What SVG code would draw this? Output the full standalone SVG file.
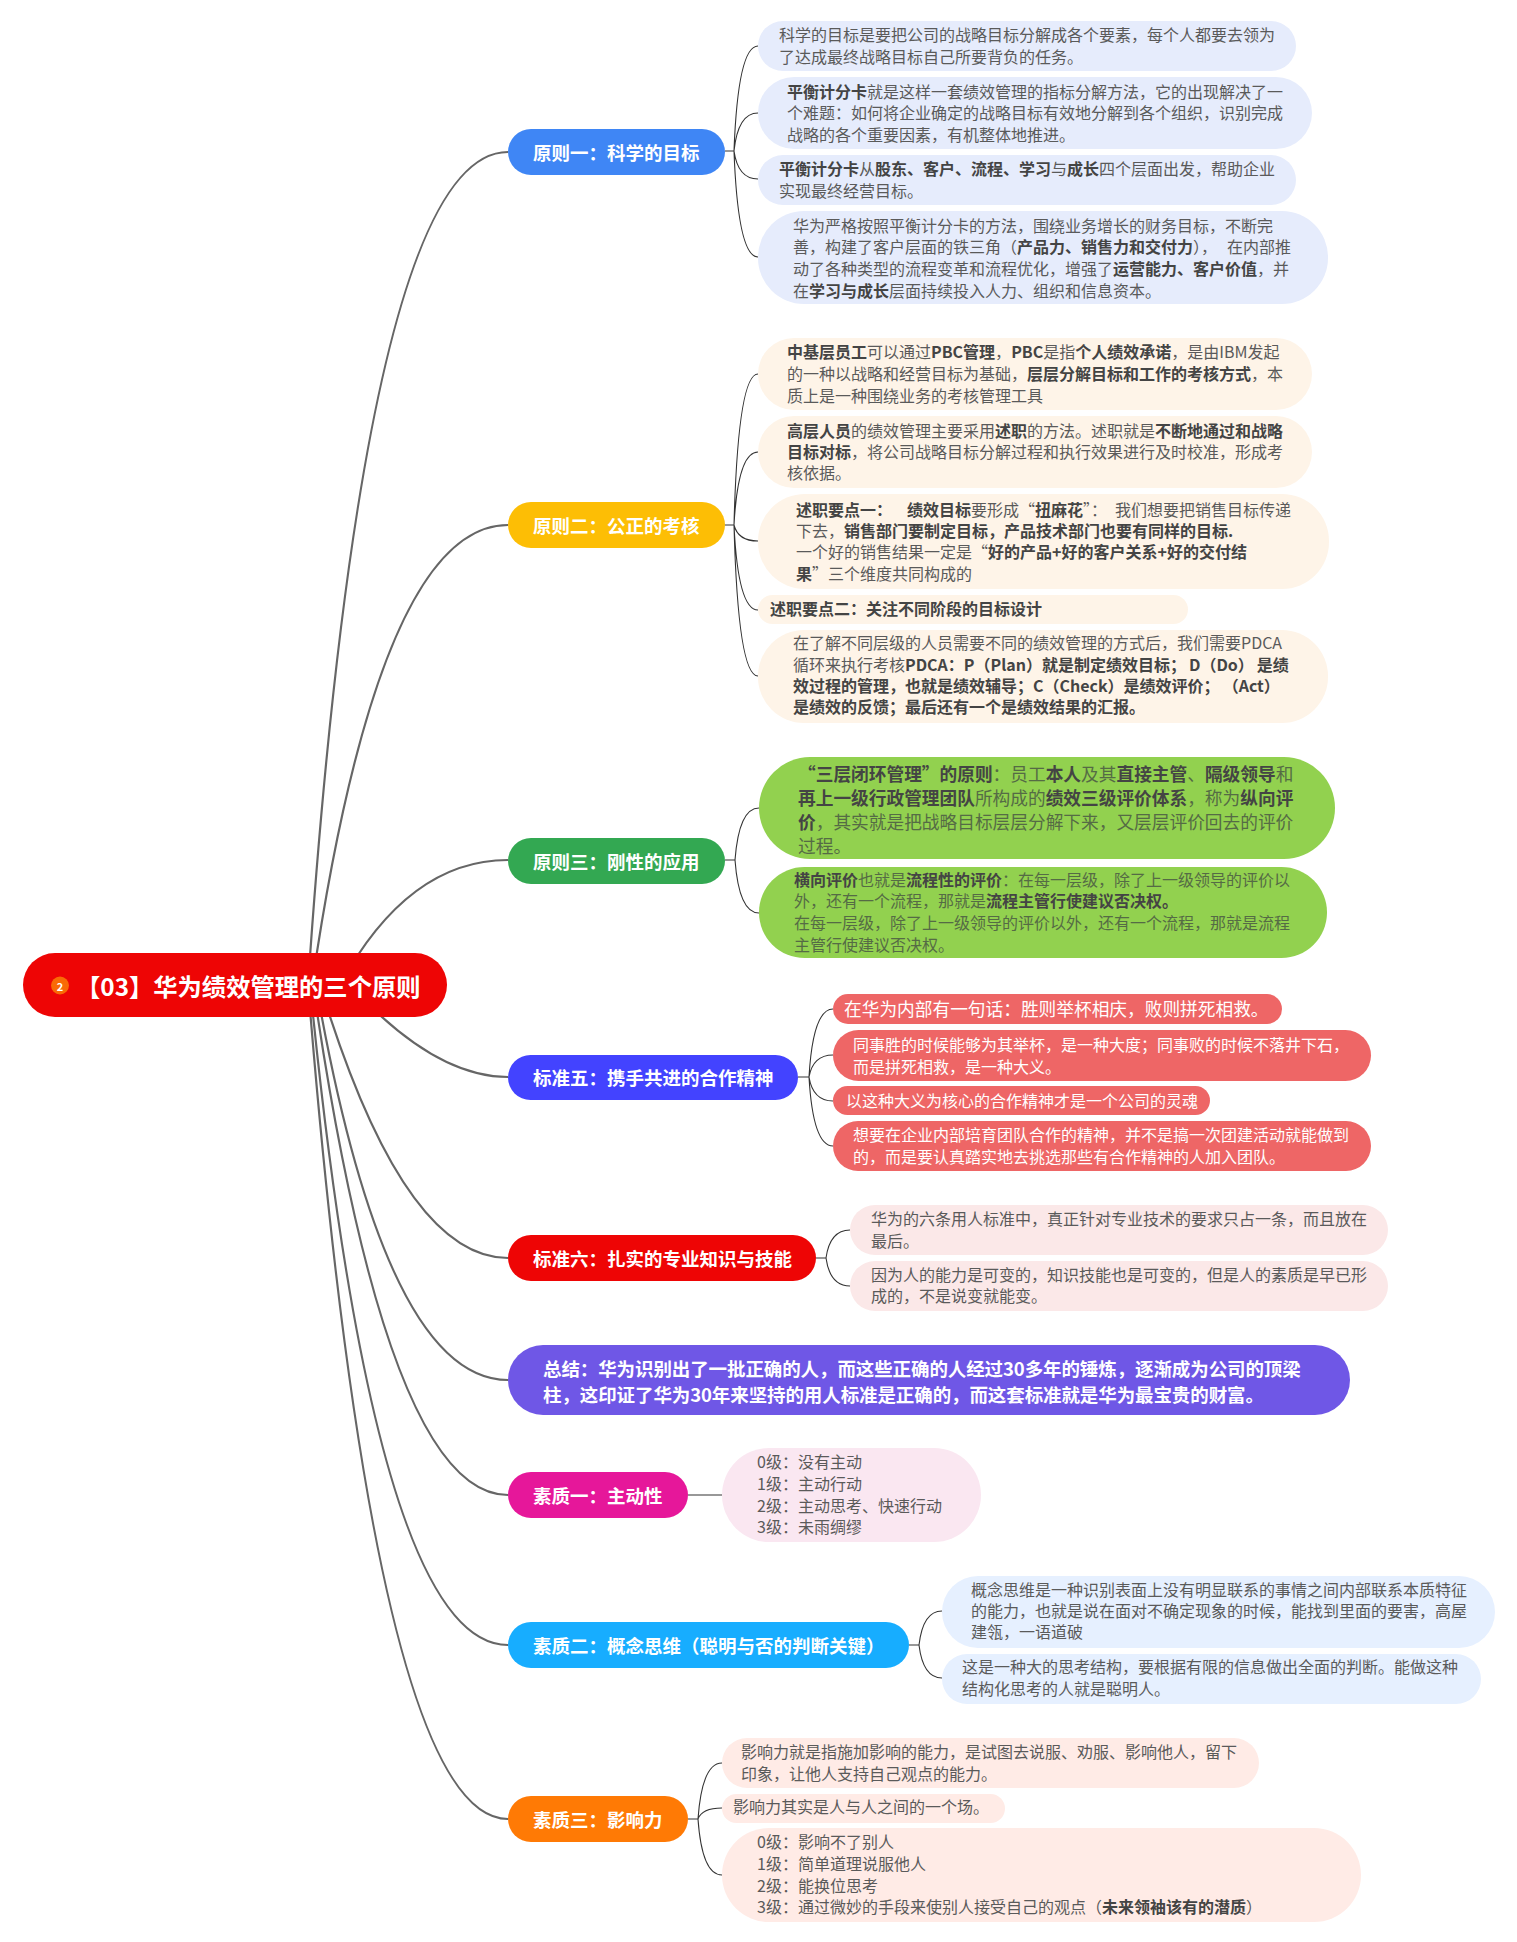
<svg xmlns="http://www.w3.org/2000/svg" width="1517" height="1942" viewBox="0 0 1517 1942">
<style>
text{font-family:"Noto Sans CJK SC","Noto Sans",sans-serif;font-size:16px;fill:#5a5a5a;white-space:pre}
.b{font-weight:700;fill:#444}
.br{font-size:18.5px;font-weight:700;fill:#fff}
.w{fill:#fff}
.g{fill:#556b45}
.g .b{fill:#444}
.l17{font-size:17.7px}
.main{fill:none;stroke:#666;stroke-width:2.2}
.sub{fill:none;stroke:#333;stroke-width:1.1}
</style>
<rect width="1517" height="1942" fill="#fff"/>
<g id="connectors">
<path class="main" d="M308 985Q365 152 508 152"/>
<path class="main" d="M312 985Q379 525 508 525"/>
<path class="main" d="M340 985Q408 860 508 860"/>
<path class="main" d="M350 985Q434 1077 508 1077"/>
<path class="main" d="M320 985Q403 1258 508 1258"/>
<path class="main" d="M316 985Q385 1380 508 1380"/>
<path class="main" d="M313 985Q387 1495 508 1495"/>
<path class="main" d="M310 985Q375 1645 508 1645"/>
<path class="main" d="M308 985Q375 1819 508 1819"/>
<path class="sub" d="M725 151H734M734 151Q738 46 758 46M734 151Q738 113 758 113M734 151Q738 179 758 179M734 151Q738 257 758 257"/>
<path class="sub" d="M725 525H734M734 525Q738 374 758 374M734 525Q738 452 758 452M734 525Q738 541 758 541M734 525Q738 610 758 610M734 525Q738 676 758 676"/>
<path class="sub" d="M725 860H735M735 860Q739 808 759 808M735 860Q739 913 759 913"/>
<path class="sub" d="M798 1077H809M809 1077Q813 1009 833 1009M809 1077Q813 1055 833 1055M809 1077Q813 1101 833 1101M809 1077Q813 1146 833 1146"/>
<path class="sub" d="M816 1258H826M826 1258Q830 1230 850 1230M826 1258Q830 1286 850 1286"/>
<path class="sub" d="M688 1495H722"/>
<path class="sub" d="M909 1645H919M919 1645Q923 1611 942 1611M919 1645Q923 1678 942 1678"/>
<path class="sub" d="M688 1819H698M698 1819Q702 1763 722 1763M698 1819Q702 1808 722 1808M698 1819Q702 1875 722 1875"/>
</g>
<g id="root">
<rect x="23" y="953" width="424" height="64" rx="32" fill="#ee0505"/>
<circle cx="60" cy="985.500" r="9" fill="#f96a05"/>
<text x="60" y="990.500" text-anchor="middle" style="font-size:11px;font-weight:700;fill:#fff">2</text>
<text x="76" y="996" style="font-size:24.3px;font-weight:700;fill:#fff">【03】华为绩效管理的三个原则</text>
</g>
<g id="b1">
<rect x="508" y="129" width="217" height="46" rx="23" fill="#3f86f5"/>
<text class="br" x="533" y="159.500">原则一：科学的目标</text>
</g>
<g id="c1">
<rect x="758" y="21" width="538" height="50" rx="25" fill="#e6ecfc"/>
<text x="779" y="40.500">科学的目标是要把公司的战略目标分解成各个要素，每个人都要去领为</text>
<text x="779" y="62.500">了达成最终战略目标自己所要背负的任务。</text>
</g>
<g id="c2">
<rect x="758" y="77" width="554" height="72" rx="36" fill="#e6ecfc"/>
<text x="787" y="97.500"><tspan class="b">平衡计分卡</tspan>就是这样一套绩效管理的指标分解方法，它的出现解决了一</text>
<text x="787" y="119">个难题：如何将企业确定的战略目标有效地分解到各个组织，识别完成</text>
<text x="787" y="140.500">战略的各个重要因素，有机整体地推进。</text>
</g>
<g id="c3">
<rect x="758" y="155" width="538" height="50" rx="25" fill="#e6ecfc"/>
<text x="779" y="174.500"><tspan class="b">平衡计分卡</tspan>从<tspan class="b">股东、客户、流程、学习</tspan>与<tspan class="b">成长</tspan>四个层面出发，帮助企业</text>
<text x="779" y="196.500">实现最终经营目标。</text>
</g>
<g id="c4">
<rect x="758" y="211" width="570" height="93" rx="46" fill="#e6ecfc"/>
<text x="793" y="231.500">华为严格按照平衡计分卡的方法，围绕业务增长的财务目标，不断完</text>
<text x="793" y="252.500">善，构建了客户层面的铁三角（<tspan class="b">产品力、销售力和交付力</tspan>），<tspan x="1227">在内部推</tspan></text>
<text x="793" y="274.500">动了各种类型的流程变革和流程优化，增强了<tspan class="b">运营能力、客户价值</tspan>，并</text>
<text x="793" y="296.500">在<tspan class="b">学习与成长</tspan>层面持续投入人力、组织和信息资本。</text>
</g>
<g id="b2">
<rect x="508" y="502" width="217" height="46" rx="23" fill="#fdbe05"/>
<text class="br" x="533" y="532.500">原则二：公正的考核</text>
</g>
<g id="d1">
<rect x="758" y="338" width="554" height="72" rx="36" fill="#fef4e8"/>
<text x="787" y="357.500"><tspan class="b">中基层员工</tspan>可以通过<tspan class="b">PBC管理</tspan>，<tspan class="b">PBC</tspan>是指<tspan class="b">个人绩效承诺</tspan>，是由IBM发起</text>
<text x="787" y="379.500">的一种以战略和经营目标为基础，<tspan class="b">层层分解目标和工作的考核方式</tspan>，本</text>
<text x="787" y="401.500">质上是一种围绕业务的考核管理工具</text>
</g>
<g id="d2">
<rect x="758" y="416" width="554" height="72" rx="36" fill="#fef4e8"/>
<text x="787" y="436.500"><tspan class="b">高层人员</tspan>的绩效管理主要采用<tspan class="b">述职</tspan>的方法。述职就是<tspan class="b">不断地通过和战略</tspan></text>
<text x="787" y="457.500"><tspan class="b">目标对标</tspan>，将公司战略目标分解过程和执行效果进行及时校准，形成考</text>
<text x="787" y="478.500">核依据。</text>
</g>
<g id="d3">
<rect x="758" y="494" width="571" height="95" rx="47" fill="#fef4e8"/>
<text x="796" y="516"><tspan class="b">述职要点一：</tspan><tspan x="907" class="b">绩效目标</tspan>要形成“<tspan class="b">扭麻花</tspan>”：<tspan x="1115">我们想要把销售目标传递</tspan></text>
<text x="796" y="537">下去，<tspan class="b">销售部门要制定目标，产品技术部门也要有同样的目标.</tspan></text>
<text x="796" y="558">一个好的销售结果一定是“<tspan class="b">好的产品+好的客户关系+好的交付结</tspan></text>
<text x="796" y="580"><tspan class="b">果</tspan>”三个维度共同构成的</text>
</g>
<g id="d4">
<rect x="758" y="595" width="430" height="29" rx="14.500" fill="#fef4e8"/>
<text class="b" x="770" y="614.500">述职要点二：关注不同阶段的目标设计</text>
</g>
<g id="d5">
<rect x="758" y="630" width="570" height="93" rx="46" fill="#fef4e8"/>
<text x="793" y="648.500">在了解不同层级的人员需要不同的绩效管理的方式后，我们需要PDCA</text>
<text x="793" y="671"><tspan dx="0">循环来执行考核</tspan><tspan class="b">PDCA：P（Plan）就是制定绩效目标；</tspan><tspan class="b" dx="3">D（Do）</tspan><tspan class="b" dx="3">是绩</tspan></text>
<text class="b" x="793" y="692">效过程的管理，也就是绩效辅导；C（Check）是绩效评价；<tspan dx="11">（Act）</tspan></text>
<text class="b" x="793" y="713">是绩效的反馈；最后还有一个是绩效结果的汇报。</text>
</g>
<g id="b3">
<rect x="508" y="838" width="217" height="46" rx="23" fill="#33a852"/>
<text class="br" x="533" y="868.500">原则三：刚性的应用</text>
</g>
<g id="e1">
<rect x="759" y="757" width="576" height="102" rx="51" fill="#92d14f"/>
<text class="g l17" x="798" y="780.500"><tspan class="b">“三层闭环管理”的原则</tspan>：员工<tspan class="b">本人</tspan>及其<tspan class="b">直接主管</tspan>、<tspan class="b">隔级领导</tspan>和</text>
<text class="g l17" x="798" y="804.500"><tspan class="b">再上一级行政管理团队</tspan>所构成的<tspan class="b">绩效三级评价体系</tspan>，称为<tspan class="b">纵向评</tspan></text>
<text class="g l17" x="798" y="828.500"><tspan class="b">价</tspan>，其实就是把战略目标层层分解下来，又层层评价回去的评价</text>
<text class="g l17" x="798" y="852.500">过程。</text>
</g>
<g id="e2">
<rect x="759" y="867" width="568" height="91" rx="45.500" fill="#92d14f"/>
<text class="g" x="794" y="886"><tspan class="b">横向评价</tspan>也就是<tspan class="b">流程性的评价</tspan>：在每一层级，除了上一级领导的评价以</text>
<text class="g" x="794" y="907">外，还有一个流程，那就是<tspan class="b">流程主管行使建议否决权。</tspan></text>
<text class="g" x="794" y="929">在每一层级，除了上一级领导的评价以外，还有一个流程，那就是流程</text>
<text class="g" x="794" y="951">主管行使建议否决权。</text>
</g>
<g id="b5">
<rect x="508" y="1055" width="290" height="45" rx="22.500" fill="#4343ff"/>
<text class="br" x="533" y="1084.500">标准五：携手共进的合作精神</text>
</g>
<g id="f1">
<rect x="833" y="994" width="449" height="30" rx="15" fill="#ee6666"/>
<text class="w l17" x="844" y="1016">在华为内部有一句话：胜则举杯相庆，败则拼死相救。</text>
</g>
<g id="f2">
<rect x="833" y="1030" width="538" height="51" rx="25.500" fill="#ee6666"/>
<text class="w" x="853" y="1050.500">同事胜的时候能够为其举杯，是一种大度；同事败的时候不落井下石，</text>
<text class="w" x="853" y="1072.500">而是拼死相救，是一种大义。</text>
</g>
<g id="f3">
<rect x="833" y="1086" width="377" height="29" rx="14.500" fill="#ee6666"/>
<text class="w" x="846" y="1106.500">以这种大义为核心的合作精神才是一个公司的灵魂</text>
</g>
<g id="f4">
<rect x="833" y="1121" width="538" height="50" rx="25" fill="#ee6666"/>
<text class="w" x="853" y="1140.500">想要在企业内部培育团队合作的精神，并不是搞一次团建活动就能做到</text>
<text class="w" x="853" y="1162.500">的，而是要认真踏实地去挑选那些有合作精神的人加入团队。</text>
</g>
<g id="b6">
<rect x="508" y="1235" width="308" height="46" rx="23" fill="#ee0505"/>
<text class="br" x="533" y="1265.500">标准六：扎实的专业知识与技能</text>
</g>
<g id="g1">
<rect x="850" y="1205" width="538" height="50" rx="25" fill="#fbe8e8"/>
<text x="871" y="1224.500">华为的六条用人标准中，真正针对专业技术的要求只占一条，而且放在</text>
<text x="871" y="1246.500">最后。</text>
</g>
<g id="g2">
<rect x="850" y="1261" width="538" height="50" rx="25" fill="#fbe8e8"/>
<text x="871" y="1280.500">因为人的能力是可变的，知识技能也是可变的，但是人的素质是早已形</text>
<text x="871" y="1302">成的，不是说变就能变。</text>
</g>
<g id="summary">
<rect x="508" y="1345" width="842" height="70" rx="35" fill="#6f57e6"/>
<text class="br" x="543" y="1375.500" style="letter-spacing:-.1px">总结：华为识别出了一批正确的人，而这些正确的人经过30多年的锤炼，逐渐成为公司的顶梁</text>
<text class="br" x="543" y="1401.500" style="letter-spacing:-.1px">柱，这印证了华为30年来坚持的用人标准是正确的，而这套标准就是华为最宝贵的财富。</text>
</g>
<g id="s1">
<rect x="508" y="1472" width="180" height="46" rx="23" fill="#e6179a"/>
<text class="br" x="533" y="1502.500">素质一：主动性</text>
</g>
<g id="h">
<rect x="722" y="1448" width="259" height="94" rx="47" fill="#fae7f1"/>
<text x="757" y="1467.500">0级：没有主动</text>
<text x="757" y="1489.500">1级：主动行动</text>
<text x="757" y="1511.500">2级：主动思考、快速行动</text>
<text x="757" y="1532.500">3级：未雨绸缪</text>
</g>
<g id="s2">
<rect x="508" y="1622" width="401" height="46" rx="23" fill="#17adff"/>
<text class="br" x="533" y="1652.500">素质二：概念思维（聪明与否的判断关键）</text>
</g>
<g id="i1">
<rect x="942" y="1576" width="553" height="72" rx="36" fill="#e6f0ff"/>
<text x="971" y="1596">概念思维是一种识别表面上没有明显联系的事情之间内部联系本质特征</text>
<text x="971" y="1617">的能力，也就是说在面对不确定现象的时候，能找到里面的要害，高屋</text>
<text x="971" y="1638">建瓴，一语道破</text>
</g>
<g id="i2">
<rect x="942" y="1654" width="539" height="50" rx="25" fill="#e6f0ff"/>
<text x="962" y="1673">这是一种大的思考结构，要根据有限的信息做出全面的判断。能做这种</text>
<text x="962" y="1695">结构化思考的人就是聪明人。</text>
</g>
<g id="s3">
<rect x="508" y="1796" width="180" height="46" rx="23" fill="#ff7a05"/>
<text class="br" x="533" y="1826.500">素质三：影响力</text>
</g>
<g id="j1">
<rect x="722" y="1738" width="537" height="50" rx="25" fill="#ffebe6"/>
<text x="741" y="1758">影响力就是指施加影响的能力，是试图去说服、劝服、影响他人，留下</text>
<text x="741" y="1780">印象，让他人支持自己观点的能力。</text>
</g>
<g id="j2">
<rect x="722" y="1794" width="283" height="29" rx="14.500" fill="#ffebe6"/>
<text x="733" y="1813">影响力其实是人与人之间的一个场。</text>
</g>
<g id="j3">
<rect x="722" y="1828" width="639" height="94" rx="47" fill="#ffebe6"/>
<text x="757" y="1847.500">0级：影响不了别人</text>
<text x="757" y="1869.500">1级：简单道理说服他人</text>
<text x="757" y="1891.500">2级：能换位思考</text>
<text x="757" y="1912.500">3级：通过微妙的手段来使别人接受自己的观点（<tspan class="b">未来领袖该有的潜质</tspan>）</text>
</g>
</svg>
